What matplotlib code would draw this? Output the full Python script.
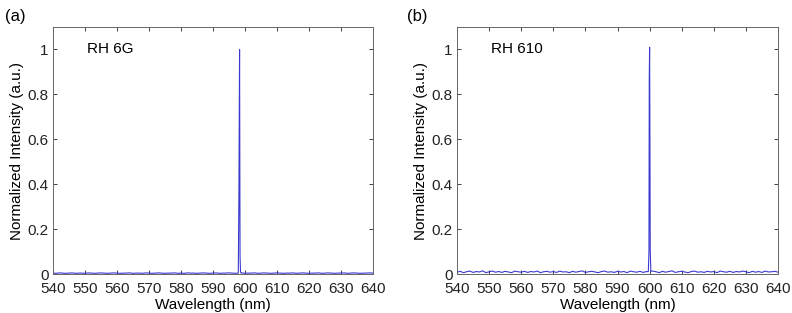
import numpy as np
import matplotlib.pyplot as plt

plt.rcParams['font.family'] = ['Liberation Sans', 'DejaVu Sans']

# baseline grid, 1 nm steps
wl_base = np.arange(540, 641, 1.0)

# (a) RH 6G  -- baseline noise
base_a = [0.004, 0.003, 0.005, 0.004, 0.003, 0.004, 0.005, 0.003, 0.004, 0.004,
          0.003, 0.005, 0.004, 0.003, 0.004, 0.005, 0.004, 0.003, 0.004, 0.005,
          0.004, 0.003, 0.004, 0.004, 0.005, 0.003, 0.004, 0.004, 0.003, 0.005,
          0.004, 0.003, 0.004, 0.005, 0.004, 0.003, 0.004, 0.004, 0.005, 0.003,
          0.004, 0.003, 0.005, 0.004, 0.004, 0.003, 0.004, 0.005, 0.004, 0.003,
          0.004, 0.005, 0.003, 0.004, 0.004, 0.005, 0.004, 0.003, 0.004, 0.005,
          0.003, 0.004, 0.004, 0.005, 0.003, 0.004, 0.005, 0.004, 0.003, 0.004,
          0.005, 0.004, 0.003, 0.004, 0.004, 0.005, 0.003, 0.004, 0.005, 0.004,
          0.003, 0.004, 0.004, 0.005, 0.003, 0.004, 0.005, 0.004, 0.003, 0.004,
          0.004, 0.005, 0.003, 0.004, 0.005, 0.004, 0.003, 0.004, 0.004, 0.005,
          0.004]
peak_wl_a = [597.9, 598.1, 598.3, 598.45, 598.6, 598.8]
peak_i_a = [0.004, 0.35, 1.0, 0.08, 0.01, 0.004]

# (b) RH 610
base_b = [0.008, 0.012, 0.006, 0.010, 0.013, 0.007, 0.011, 0.009, 0.014, 0.006,
          0.010, 0.013, 0.008, 0.011, 0.007, 0.012, 0.009, 0.006, 0.013, 0.010,
          0.008, 0.012, 0.007, 0.011, 0.009, 0.013, 0.006, 0.010, 0.012, 0.008,
          0.011, 0.007, 0.013, 0.009, 0.010, 0.006, 0.012, 0.008, 0.011, 0.014,
          0.007, 0.010, 0.012, 0.009, 0.006, 0.011, 0.013, 0.008, 0.010, 0.007,
          0.012, 0.009, 0.011, 0.006, 0.013, 0.010, 0.008, 0.012, 0.007, 0.011,
          0.009, 0.013, 0.010, 0.006, 0.012, 0.008, 0.011, 0.014, 0.007, 0.010,
          0.012, 0.009, 0.006, 0.011, 0.013, 0.008, 0.010, 0.007, 0.012, 0.009,
          0.011, 0.006, 0.013, 0.010, 0.008, 0.012, 0.007, 0.011, 0.009, 0.013,
          0.010, 0.006, 0.012, 0.008, 0.011, 0.007, 0.013, 0.009, 0.010, 0.012,
          0.008]
peak_wl_b = [599.6, 599.8, 599.9, 600.0, 600.1, 600.2, 600.4]
peak_i_b = [0.010, 0.10, 0.87, 1.01, 0.60, 0.10, 0.012]

xticks = np.arange(540, 641, 10)
yticks = [0, 0.2, 0.4, 0.6, 0.8, 1]
yticklabels = ['0', '0.2', '0.4', '0.6', '0.8', '1']


def merge(wl, base, pwl, pint):
    lo, hi = min(pwl), max(pwl)
    keep = [(w, b) for w, b in zip(wl, base) if w < lo or w > hi]
    pts = sorted(keep + list(zip(pwl, pint)))
    return [p[0] for p in pts], [p[1] for p in pts]


fig = plt.figure(figsize=(7.92, 3.13), dpi=100)
ax1 = fig.add_axes([53 / 792, 1 - 274 / 313, 320 / 792, 247 / 313])
ax2 = fig.add_axes([457 / 792, 1 - 274 / 313, 321 / 792, 247 / 313])

panels = [
    (ax1, base_a, peak_wl_a, peak_i_a, 'RH 6G'),
    (ax2, base_b, peak_wl_b, peak_i_b, 'RH 610'),
]

fs = 11
for ax, base, pwl, pint, name in panels:
    x, y = merge(wl_base, base, pwl, pint)
    ax.plot(x, y, color='#3a3ad0', lw=0.8)
    ax.set_xlim(540, 640)
    ax.set_ylim(0, 1.1)
    ax.set_xticks(xticks)
    ax.set_yticks(yticks)
    ax.set_yticklabels(yticklabels)
    ax.tick_params(direction='in', top=True, right=True, length=3,
                   width=0.6, labelsize=fs, colors='#222222')
    ax.tick_params(axis='x', pad=6)
    ax.tick_params(axis='y', pad=3)
    for s in ax.spines.values():
        s.set_color('#666666')
        s.set_linewidth(0.7)
    ax.set_xlabel('Wavelength (nm)', fontsize=fs, labelpad=1)
    ax.set_ylabel('Normalized Intensity (a.u.)', fontsize=fs, labelpad=3)
    ax.text(0.106, 0.911, name, transform=ax.transAxes, fontsize=fs,
            va='center', ha='left')

fig.text(5 / 792, 1 - 16 / 313, '(a)', fontsize=12, va='center', ha='left')
fig.text(407 / 792, 1 - 16 / 313, '(b)', fontsize=12, va='center', ha='left')

fig.savefig('out.png', dpi=100)
